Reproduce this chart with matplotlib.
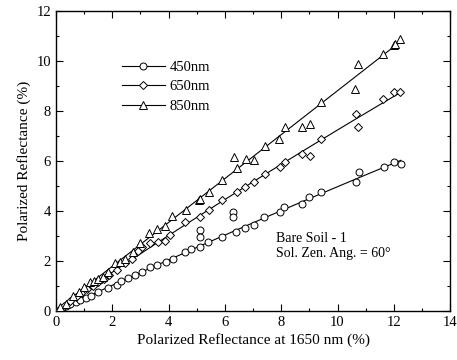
#!/usr/bin/env python3
"""Polarized reflectance at 450/650/850 nm vs 1650 nm, bare soil."""

import numpy as np
import matplotlib

matplotlib.use("Agg")
import matplotlib.pyplot as plt  # noqa: E402
from matplotlib.lines import Line2D  # noqa: E402
from matplotlib.ticker import MultipleLocator  # noqa: E402

# 450 nm
x450 = [0.05, 0.2, 0.35, 0.5, 0.7, 0.85, 1.05, 1.25, 1.5, 1.85, 2.15, 2.3, 2.55,
        2.8, 3.05, 3.35, 3.6, 3.9, 4.15, 4.6, 4.8, 5.1, 5.4, 5.9, 6.4, 6.7, 7.05,
        7.4, 7.95, 8.1, 8.75, 9.0, 9.4, 10.65, 10.75, 11.65, 12.0, 12.25]
y450 = [0.02, 0.12, 0.2, 0.28, 0.37, 0.45, 0.52, 0.62, 0.76, 0.92, 1.06, 1.2, 1.32,
        1.45, 1.55, 1.76, 1.86, 1.98, 2.1, 2.37, 2.5, 2.58, 2.78, 2.97, 3.17, 3.33, 3.44,
        3.77, 3.97, 4.17, 4.27, 4.57, 4.76, 5.15, 5.55, 5.77, 5.97, 5.88]
x450_off = [5.12, 5.12, 6.3, 6.3]
y450_off = [3.24, 2.97, 3.97, 3.77]

# 650 nm
x650 = [0.1, 0.3, 0.5, 0.7, 0.9, 1.1, 1.3, 1.5, 1.7, 1.9, 2.15, 2.45, 2.7, 2.9,
        3.05, 3.35, 3.64, 3.88, 4.06, 4.6, 5.1, 5.42, 5.9, 6.43, 6.7, 7.02, 7.41,
        7.94, 8.12, 8.73, 9.01, 9.42, 10.64, 10.74, 11.63, 12.0, 12.22]
y650 = [0.05, 0.2, 0.4, 0.55, 0.72, 0.88, 1.0, 1.15, 1.3, 1.45, 1.65, 1.91, 2.1, 2.4,
        2.57, 2.71, 2.77, 2.8, 3.04, 3.57, 3.77, 4.05, 4.45, 4.77, 4.97, 5.17, 5.5,
        5.77, 5.97, 6.27, 6.2, 6.89, 7.87, 7.37, 8.48, 8.77, 8.77]

# 850 nm
x850 = [0.15, 0.35, 0.6, 0.8, 1.0, 1.2, 1.35, 1.5, 1.66, 1.86, 2.1, 2.28, 2.46,
        2.75, 2.99, 3.29, 3.58, 3.88, 4.12, 4.63, 5.07, 5.12, 5.42, 5.9, 6.43, 6.31,
        6.76, 7.05, 7.44, 7.91, 8.12, 8.74, 9.04, 9.4, 10.62, 10.72, 11.61, 12.0,
        12.04, 12.21]
y850 = [0.15, 0.3, 0.6, 0.75, 0.95, 1.15, 1.2, 1.3, 1.37, 1.57, 1.91, 1.97, 2.07,
        2.37, 2.71, 3.13, 3.27, 3.4, 3.8, 4.04, 4.44, 4.5, 4.77, 5.24, 5.71, 6.17,
        6.07, 6.04, 6.61, 6.87, 7.35, 7.35, 7.47, 8.35, 8.87, 9.87, 10.28, 10.64,
        10.68, 10.87]

labels = ["450nm", "650nm", "850nm"]
markers = ["o", "D", "^"]
sizes = [5.0, 3.8, 5.2]

plt.rcParams["font.family"] = ["Liberation Serif", "DejaVu Serif"]

fig = plt.figure(figsize=(4.57, 3.6), dpi=100)
ax = fig.add_axes([0.1225, 0.136, 0.8625, 0.833])

series = [(x450, y450), (x650, y650), (x850, y850)]
for (xs, ys), m, ms in zip(series, markers, sizes):
    xs = np.asarray(xs)
    ys = np.asarray(ys)
    coef = np.polyfit(xs, ys, 2)
    xf = np.linspace(0.0, xs.max(), 100)
    ax.plot(xf, np.polyval(coef, xf), color="black", lw=0.8, zorder=2)
    ax.plot(xs, ys, ls="none", marker=m, ms=ms, mfc="white", mec="black",
            mew=0.7, zorder=3)
ax.plot(x450_off, y450_off, ls="none", marker="o", ms=5.0, mfc="white",
        mec="black", mew=0.7, zorder=3)

handles = [Line2D([], [], color="black", lw=0.8, marker=m, ms=ms, mfc="white",
                  mec="black", mew=0.7) for m, ms in zip(markers, sizes)]
ax.legend(handles, labels, loc="upper left", bbox_to_anchor=(0.148, 0.86),
          frameon=False, fontsize=10.5, handlelength=3.0, handletextpad=0.3,
          labelspacing=0.45, numpoints=1, borderpad=0)

ax.text(7.8, 3.15, "Bare Soil - 1\nSol. Zen. Ang. = 60°", fontsize=10,
        va="top", ha="left", linespacing=1.2)

ax.set_xlim(0, 14)
ax.set_ylim(0, 12)
ax.xaxis.set_major_locator(MultipleLocator(2))
ax.xaxis.set_minor_locator(MultipleLocator(1))
ax.yaxis.set_major_locator(MultipleLocator(2))
ax.yaxis.set_minor_locator(MultipleLocator(1))
ax.tick_params(which="both", direction="in", top=True, right=True,
               labelsize=10.5, width=0.8)
ax.tick_params(which="major", length=5)
ax.tick_params(which="minor", length=2.5)
for sp in ax.spines.values():
    sp.set_linewidth(1.0)

ax.set_xlabel("Polarized Reflectance at 1650 nm (%)", fontsize=11, labelpad=3)
ax.set_ylabel("Polarized Reflectance (%)", fontsize=11, labelpad=4)

fig.savefig("out.png", dpi=100)
plt.close(fig)
